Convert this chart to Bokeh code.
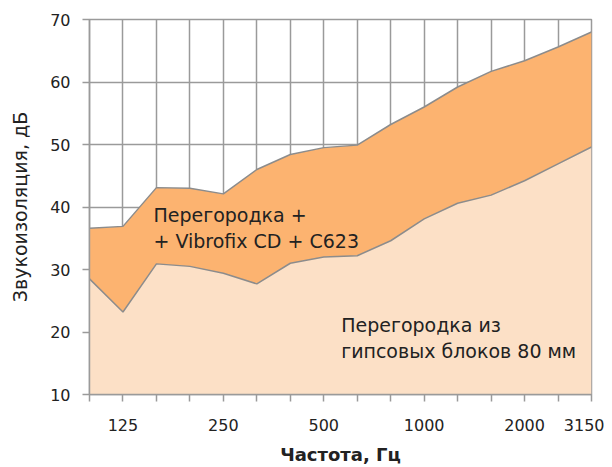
from bokeh.plotting import figure
from bokeh.models import FixedTicker, Label, Range1d
from bokeh.embed import file_html
from bokeh.resources import INLINE

freqs = ["100", "125", "160", "200", "250", "315", "400", "500", "630",
         "800", "1000", "1250", "1600", "2000", "2500", "3150"]
shown_labels = ["125", "250", "500", "1000", "2000", "3150"]
upper = [36.6, 36.9, 43.1, 43.0, 42.1, 46.0, 48.4, 49.5, 49.9, 53.2, 56.0,
         59.2, 61.7, 63.4, 65.6, 68.0]
lower = [28.5, 23.2, 30.9, 30.5, 29.4, 27.7, 31.0, 32.0, 32.2, 34.6, 38.1,
         40.6, 41.9, 44.2, 46.9, 49.6]
y_ticks = [10, 20, 30, 40, 50, 60, 70]
y_base = 10

x = list(range(len(freqs)))
base = [y_base] * len(freqs)

p = figure(width=604, height=467, output_backend="svg", toolbar_location=None,
           x_range=Range1d(0, len(freqs) - 1), y_range=Range1d(10, 70),
           min_border_left=89, min_border_right=13, min_border_top=19,
           min_border_bottom=73)

grid_col = "#9a9a9a"
p.xgrid.ticker = FixedTicker(ticks=x)
p.ygrid.ticker = FixedTicker(ticks=y_ticks)
for g in (p.xgrid, p.ygrid):
    g.grid_line_color = grid_col
    g.grid_line_width = 1.5

p.varea(x=x, y1=lower, y2=upper, fill_color="#fcb370")
p.varea(x=x, y1=base, y2=lower, fill_color="#fce0c6")
p.line(x, upper, line_color="#8c8c8c", line_width=1.5)
p.line(x, lower, line_color="#8c8c8c", line_width=1.5)

p.outline_line_color = grid_col
p.outline_line_width = 1.5

p.xaxis.ticker = FixedTicker(ticks=x)
p.xaxis.major_label_overrides = {i: (f if f in shown_labels else "") for i, f in enumerate(freqs)}
p.yaxis.ticker = FixedTicker(ticks=y_ticks)
for ax in (p.xaxis, p.yaxis):
    ax.axis_line_color = grid_col
    ax.axis_line_width = 1.5
    ax.major_tick_line_color = grid_col
    ax.major_tick_line_width = 1.5
    ax.major_tick_out = 7
    ax.major_tick_in = 0
    ax.minor_tick_line_color = None
    ax.major_label_text_font = "DejaVu Sans"
    ax.major_label_text_font_size = "16px"
    ax.major_label_text_color = "#222222"
    ax.axis_label_text_font = "DejaVu Sans"
    ax.axis_label_text_color = "#222222"

p.xaxis.major_label_standoff = 17
p.xaxis.axis_label = "Частота, Гц"
p.xaxis.axis_label_text_font_size = "18px"
p.xaxis.axis_label_text_font_style = "bold"
p.xaxis.axis_label_standoff = 10
p.yaxis.major_label_standoff = 12
p.yaxis.axis_label = "Звукоизоляция, дБ"
p.yaxis.axis_label_text_font_size = "19px"
p.yaxis.axis_label_text_font_style = "normal"
p.yaxis.axis_label_standoff = 16

ann = dict(text_font="DejaVu Sans", text_font_size="19px", text_color="#222222",
           text_baseline="middle", text_align="left")
p.add_layout(Label(x=1.91, y=38.8, text="Перегородка +", **ann))
p.add_layout(Label(x=1.91, y=34.6, text="+ Vibrofix CD + C623", **ann))
p.add_layout(Label(x=7.52, y=21.2, text="Перегородка из", **ann))
p.add_layout(Label(x=7.52, y=17.0, text="гипсовых блоков 80 мм", **ann))

open("out.html", "w").write(file_html(p, INLINE))
